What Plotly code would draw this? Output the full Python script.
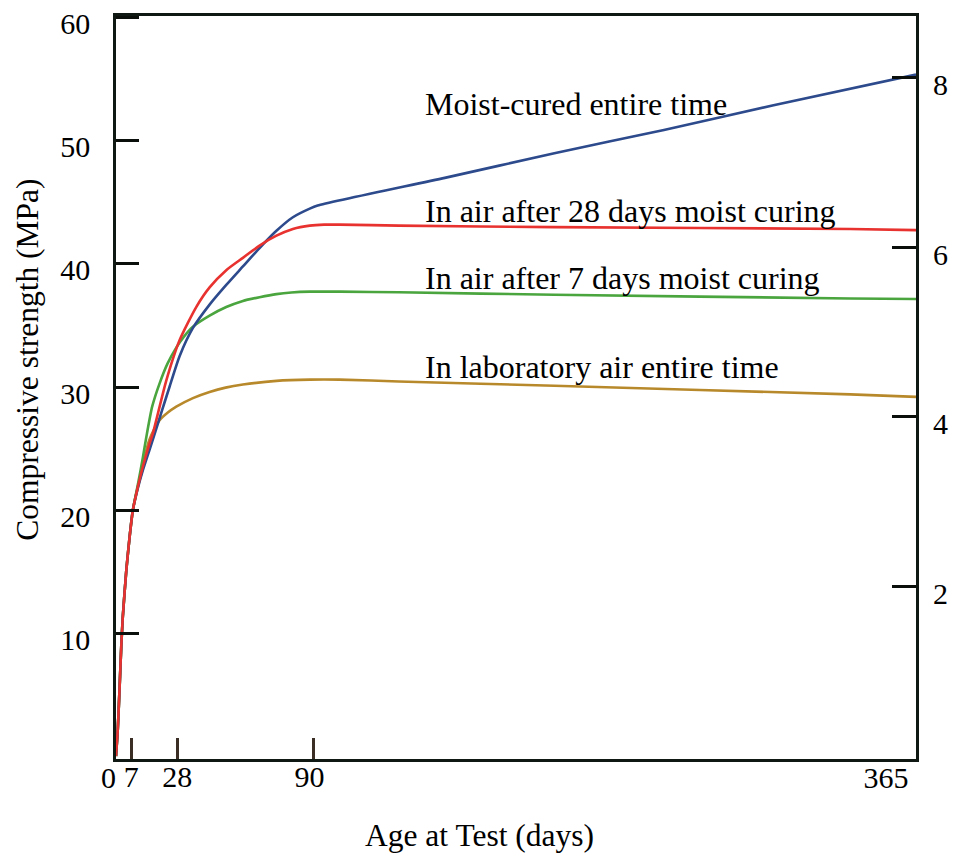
import plotly.graph_objects as go

# ---- data (age in days, compressive strength in MPa) ----
moist_days = [0, 0.8, 1.6, 2.4, 3.1, 4.7, 6.2, 7.7, 10, 12.2, 15.3, 18, 21, 24.4, 29, 35.1, 42.7,
              50.3, 57.9, 65.5, 73.2, 80.7, 88.4, 92, 150, 200, 250, 300, 365]
moist_mpa = [0, 2.1, 5.4, 8.9, 11.3, 15.1, 17.8, 20, 21.8, 23.2, 24.9, 26.4, 28.1, 30.0, 32.5, 34.8, 36.7,
             38.3, 39.8, 41.3, 42.7, 43.8, 44.5, 44.75, 47.0, 49.0, 50.9, 52.9, 55.4]

air28_days = [0, 0.8, 1.6, 2.4, 3.1, 4.7, 6.2, 7.7, 10, 12.2, 15.3, 16.8, 22.9, 29, 36.6, 42.7, 50.3,
              57.9, 65.5, 73.2, 80.7, 88.4, 95, 102, 129, 200, 335, 365]
air28_mpa = [0, 2.1, 5.4, 8.9, 11.3, 15.1, 17.8, 20, 21.9, 23.5, 25.4, 26.2, 30.5, 33.8, 36.5, 38.1, 39.5,
             40.5, 41.5, 42.3, 42.85, 43.12, 43.2, 43.2, 43.12, 43.0, 42.85, 42.75]

air7_days = [0, 0.8, 1.6, 2.4, 3.1, 4.7, 6.2, 7.7, 10, 12.2, 13.8, 16.5, 19.9, 23.5, 27.5, 31, 35.1,
             42.7, 50.3, 57.9, 65.5, 73.2, 80, 88.4, 102, 129, 200, 335, 365]
air7_mpa = [0, 2.1, 5.4, 8.9, 11.3, 15.1, 17.8, 20, 22.1, 24.2, 25.9, 28.4, 30.3, 31.9, 33.2, 34.1, 34.9,
            35.8, 36.5, 37.0, 37.3, 37.55, 37.68, 37.75, 37.75, 37.7, 37.5, 37.2, 37.15]

lab_days = [0, 0.8, 1.6, 2.4, 3.1, 4.7, 6.2, 7.7, 10, 12.2, 13.5, 15.2, 17.5, 19.9, 23.5, 27.5, 35.1,
            42.7, 50, 57.9, 73.2, 88.4, 102, 129, 200, 335, 365]
lab_mpa = [0, 2.1, 5.4, 8.9, 11.3, 15.1, 17.8, 20, 21.9, 23.4, 24.6, 25.7, 26.6, 27.3, 27.9, 28.4, 29.1,
           29.6, 29.95, 30.2, 30.5, 30.6, 30.6, 30.45, 30.1, 29.4, 29.2]

x_ticks = [0, 7, 28, 90, 365]
x_ticktext = ["", "7", "28", "90\u00a0", ""]
x_end_ticks = [0, 365]
x_end_text = ["0", "365\u00a0"]
y_ticks = [10, 20, 30, 40, 50, 60]
ksi_ticks = [2, 4, 6, 8]

labels = ["Moist-cured entire time", "In air after 28 days moist curing",
          "In air after 7 days moist curing", "In laboratory air entire time"]
label_y = [53.0, 44.3, 38.9, 31.6]

MPA_PER_KSI = 6.895
x_range = [0, 365]
y_range = [-0.24, 60.16]

FONT = "Liberation Serif, Times New Roman, serif"
TICKFONT = dict(family=FONT, size=30, color="black")

fig = go.Figure()
series = [
    (lab_days, lab_mpa, "#b8892b"),
    (air7_days, air7_mpa, "#4aa53f"),
    (moist_days, moist_mpa, "#2c4a8c"),
    (air28_days, air28_mpa, "#e8322f"),
]
for xs, ys, col in series:
    fig.add_trace(go.Scatter(x=xs, y=ys, mode="lines",
                             line=dict(color=col, width=2.6, shape="spline", smoothing=0.6),
                             showlegend=False, hoverinfo="skip"))

# invisible traces to carry the ksi axis and the end-of-axis label axis
fig.add_trace(go.Scatter(x=[0], y=[0], yaxis="y2", mode="none",
                         showlegend=False, hoverinfo="skip"))
fig.add_trace(go.Scatter(x=[0], y=[0], xaxis="x2", mode="none",
                         showlegend=False, hoverinfo="skip"))

for txt, yv in zip(labels, label_y):
    fig.add_annotation(x=140, y=yv, text=txt, showarrow=False,
                       xanchor="left", yanchor="middle",
                       font=dict(family=FONT, size=32, color="black"))

fig.add_annotation(x=0.4547, y=-0.1036, xref="paper", yref="paper",
                   text="Age at Test (days)", showarrow=False,
                   xanchor="center", yanchor="middle",
                   font=dict(family=FONT, size=31.5, color="black"))
fig.add_annotation(x=-0.1107, y=0.538, xref="paper", yref="paper",
                   text="Compressive strength (MPa)", showarrow=False, textangle=-90,
                   xanchor="center", yanchor="middle",
                   font=dict(family=FONT, size=31.5, color="black"))

axis_line = "#101814"
fig.update_layout(
    width=955, height=855,
    margin=dict(l=116, r=39, t=16, b=96, autoexpand=False),
    paper_bgcolor="white", plot_bgcolor="white",
    font=dict(family=FONT, size=30, color="black"),
    xaxis=dict(range=x_range, tickvals=x_ticks, ticktext=x_ticktext,
               tickangle=0,
               ticks="inside", ticklen=21, tickwidth=2.5, tickcolor="#3b2e25",
               showline=True, linewidth=2.5, linecolor=axis_line, mirror=True,
               showgrid=False, zeroline=False, ticklabeloverflow="allow", automargin=False,
               ticklabelstandoff=-11, tickfont=TICKFONT),
    xaxis2=dict(range=x_range, tickvals=x_end_ticks, ticktext=x_end_text, tickangle=0,
                overlaying="x", side="bottom", anchor="y",
                ticks="", showline=False, showgrid=False, zeroline=False,
                ticklabelposition="outside left",
                ticklabelstandoff=-2, ticklabeloverflow="allow", automargin=False,
                tickfont=TICKFONT),
    yaxis=dict(range=y_range, tickvals=y_ticks,
               ticks="inside", ticklen=23, tickwidth=3, tickcolor="#0a0f0c",
               showline=True, linewidth=2.5, linecolor=axis_line, mirror=True,
               showgrid=False, zeroline=False, ticklabeloverflow="allow", automargin=False,
               ticklabelstandoff=17, ticklabelshift=6, tickfont=TICKFONT),
    yaxis2=dict(range=[v / MPA_PER_KSI for v in y_range], tickvals=ksi_ticks,
                overlaying="y", side="right",
                ticks="inside", ticklen=24, tickwidth=3, tickcolor="#0a0f0c",
                showline=False, showgrid=False, zeroline=False, ticklabeloverflow="allow",
                automargin=False, ticklabelstandoff=16, ticklabelshift=7,
                tickfont=TICKFONT),
)

fig.write_html("out.html")
